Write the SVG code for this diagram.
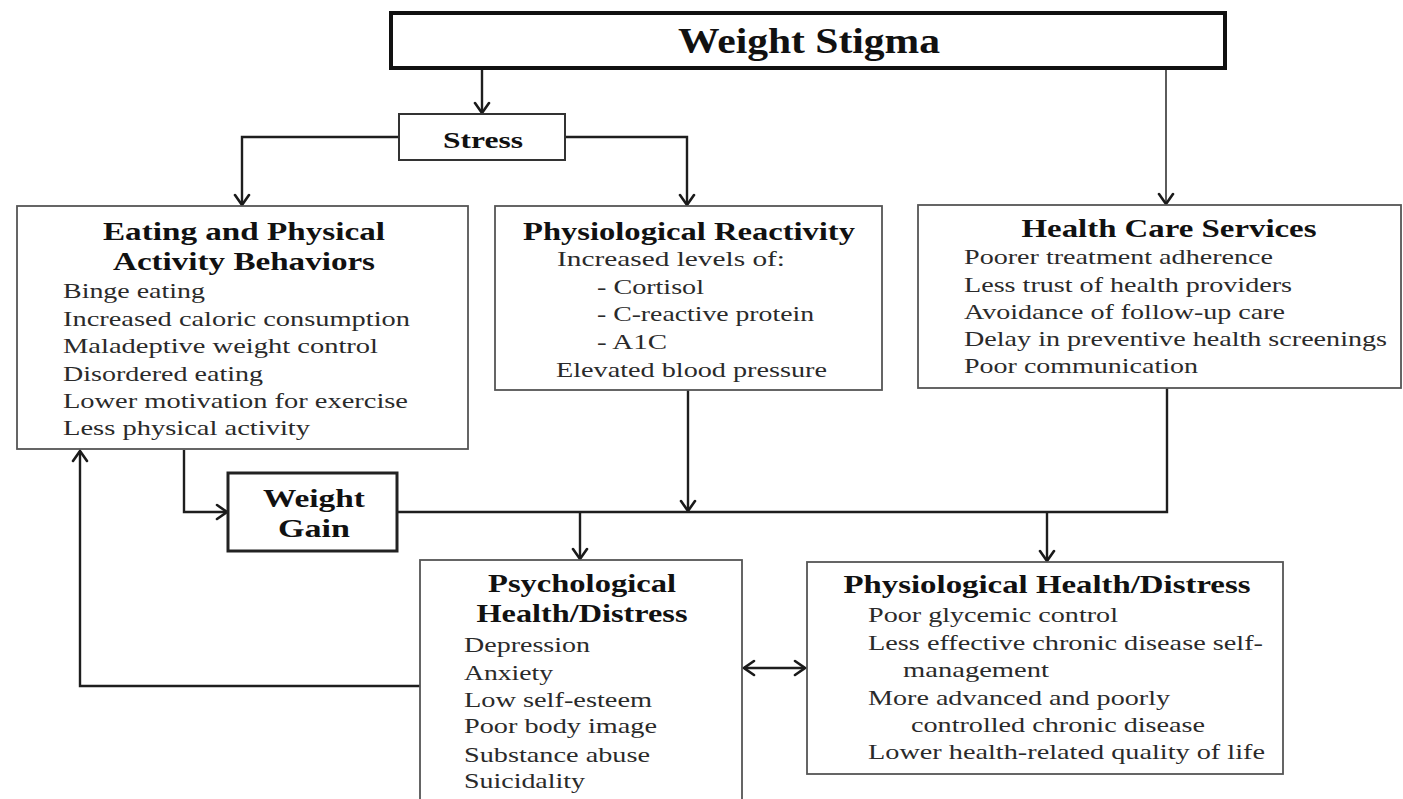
<svg xmlns="http://www.w3.org/2000/svg" width="1403" height="799" viewBox="0 0 1403 799">
<defs>
<marker id="arr" viewBox="-12 -9 14 18" refX="0" refY="0" markerWidth="14" markerHeight="18" markerUnits="userSpaceOnUse" orient="auto-start-reverse">
<path d="M-10,-7 L0,0 L-10,7" fill="none" stroke="#1a1a1a" stroke-width="2.6" stroke-linecap="round" stroke-linejoin="miter"/>
</marker>
</defs>
<style>
.box{fill:#fff;stroke:#555;stroke-width:1.8}
.thick{fill:#fff;stroke:#111;stroke-width:4}
.mid{fill:#fff;stroke:#222;stroke-width:3}
.sbox{fill:#fff;stroke:#333;stroke-width:2}
.t{font-family:"Liberation Serif","Times New Roman",serif;font-weight:bold;fill:#111;text-anchor:middle}
.b{font-family:"Liberation Serif","Times New Roman",serif;font-size:22px;fill:#2a2a2a}
.c{fill:none;stroke:#1e1e1e;stroke-width:2.4}
.c2{fill:none;stroke:#333;stroke-width:1.6}
</style>
<rect width="1403" height="799" fill="#fff"/>
<g id="connectors">
<path class="c" d="M482,68 V113" marker-end="url(#arr)"/>
<path class="c" d="M399,137 H242 V205" marker-end="url(#arr)"/>
<path class="c" d="M565,137 H687 V205" marker-end="url(#arr)"/>
<path class="c2" d="M1166,68 V204" marker-end="url(#arr)"/>
<path class="c" d="M184,450 V512 H227" marker-end="url(#arr)"/>
<path class="c" d="M688,390 V511" marker-end="url(#arr)"/>
<path class="c" d="M397,512 H1167 V388"/>
<path class="c" d="M580,512 V559" marker-end="url(#arr)"/>
<path class="c" d="M1047,512 V561" marker-end="url(#arr)"/>
<path class="c" d="M420,686 H80 V451" marker-end="url(#arr)"/>
<path class="c" d="M744,668 H805" marker-start="url(#arr)" marker-end="url(#arr)"/>
</g>
<g id="weight-stigma">
<rect class="thick" x="391" y="13" width="834" height="55"/>
<text class="t" x="809" y="53" font-size="35" textLength="262" lengthAdjust="spacingAndGlyphs">Weight Stigma</text>
</g>
<g id="stress">
<rect class="sbox" x="399" y="114" width="166" height="46"/>
<text class="t" x="483" y="148" font-size="24" textLength="80" lengthAdjust="spacingAndGlyphs">Stress</text>
</g>
<g id="eating">
<rect class="box" x="17" y="206" width="451" height="243"/>
<text class="t" x="244" y="240" font-size="25" textLength="282" lengthAdjust="spacingAndGlyphs">Eating and Physical</text>
<text class="t" x="244" y="270" font-size="25" textLength="262" lengthAdjust="spacingAndGlyphs">Activity Behaviors</text>
<text class="b" x="63" y="298" textLength="142" lengthAdjust="spacingAndGlyphs">Binge eating</text>
<text class="b" x="63" y="326" textLength="347" lengthAdjust="spacingAndGlyphs">Increased caloric consumption</text>
<text class="b" x="63" y="353" textLength="315" lengthAdjust="spacingAndGlyphs">Maladeptive weight control</text>
<text class="b" x="63" y="381" textLength="200" lengthAdjust="spacingAndGlyphs">Disordered eating</text>
<text class="b" x="63" y="408" textLength="345" lengthAdjust="spacingAndGlyphs">Lower motivation for exercise</text>
<text class="b" x="63" y="435" textLength="247" lengthAdjust="spacingAndGlyphs">Less physical activity</text>
</g>
<g id="physiological-reactivity">
<rect class="box" x="495" y="206" width="387" height="184"/>
<text class="t" x="689" y="240" font-size="25" textLength="332" lengthAdjust="spacingAndGlyphs">Physiological Reactivity</text>
<text class="b" x="557" y="266" textLength="228" lengthAdjust="spacingAndGlyphs">Increased levels of:</text>
<text class="b" x="597" y="294" textLength="107" lengthAdjust="spacingAndGlyphs">- Cortisol</text>
<text class="b" x="597" y="321" textLength="217" lengthAdjust="spacingAndGlyphs">- C-reactive protein</text>
<text class="b" x="597" y="349" textLength="70" lengthAdjust="spacingAndGlyphs">- A1C</text>
<text class="b" x="556" y="377" textLength="271" lengthAdjust="spacingAndGlyphs">Elevated blood pressure</text>
</g>
<g id="health-care">
<rect class="box" x="918" y="205" width="483" height="183"/>
<text class="t" x="1169" y="237" font-size="25" textLength="295" lengthAdjust="spacingAndGlyphs">Health Care Services</text>
<text class="b" x="964" y="264" textLength="309" lengthAdjust="spacingAndGlyphs">Poorer treatment adherence</text>
<text class="b" x="964" y="292" textLength="328" lengthAdjust="spacingAndGlyphs">Less trust of health providers</text>
<text class="b" x="964" y="319" textLength="321" lengthAdjust="spacingAndGlyphs">Avoidance of follow-up care</text>
<text class="b" x="964" y="346" textLength="423" lengthAdjust="spacingAndGlyphs">Delay in preventive health screenings</text>
<text class="b" x="964" y="373" textLength="234" lengthAdjust="spacingAndGlyphs">Poor communication</text>
</g>
<g id="weight-gain">
<rect class="mid" x="228" y="473" width="169" height="78"/>
<text class="t" x="314" y="507" font-size="25" textLength="102" lengthAdjust="spacingAndGlyphs">Weight</text>
<text class="t" x="314" y="537" font-size="25" textLength="72" lengthAdjust="spacingAndGlyphs">Gain</text>
</g>
<g id="psychological">
<rect class="box" x="420" y="560" width="322" height="260"/>
<text class="t" x="582" y="592" font-size="25" textLength="188" lengthAdjust="spacingAndGlyphs">Psychological</text>
<text class="t" x="582" y="622" font-size="25" textLength="211" lengthAdjust="spacingAndGlyphs">Health/Distress</text>
<text class="b" x="464" y="652" textLength="126" lengthAdjust="spacingAndGlyphs">Depression</text>
<text class="b" x="464" y="680" textLength="89" lengthAdjust="spacingAndGlyphs">Anxiety</text>
<text class="b" x="464" y="707" textLength="188" lengthAdjust="spacingAndGlyphs">Low self-esteem</text>
<text class="b" x="464" y="733" textLength="193" lengthAdjust="spacingAndGlyphs">Poor body image</text>
<text class="b" x="464" y="762" textLength="186" lengthAdjust="spacingAndGlyphs">Substance abuse</text>
<text class="b" x="464" y="788" textLength="121" lengthAdjust="spacingAndGlyphs">Suicidality</text>
</g>
<g id="physiological-health">
<rect class="box" x="807" y="562" width="476" height="212"/>
<text class="t" x="1047" y="593" font-size="25" textLength="407" lengthAdjust="spacingAndGlyphs">Physiological Health/Distress</text>
<text class="b" x="868" y="622" textLength="250" lengthAdjust="spacingAndGlyphs">Poor glycemic control</text>
<text class="b" x="868" y="650" textLength="395" lengthAdjust="spacingAndGlyphs">Less effective chronic disease self-</text>
<text class="b" x="903" y="677" textLength="146" lengthAdjust="spacingAndGlyphs">management</text>
<text class="b" x="868" y="705" textLength="302" lengthAdjust="spacingAndGlyphs">More advanced and poorly</text>
<text class="b" x="911" y="732" textLength="294" lengthAdjust="spacingAndGlyphs">controlled chronic disease</text>
<text class="b" x="868" y="759" textLength="397" lengthAdjust="spacingAndGlyphs">Lower health-related quality of life</text>
</g>
</svg>
